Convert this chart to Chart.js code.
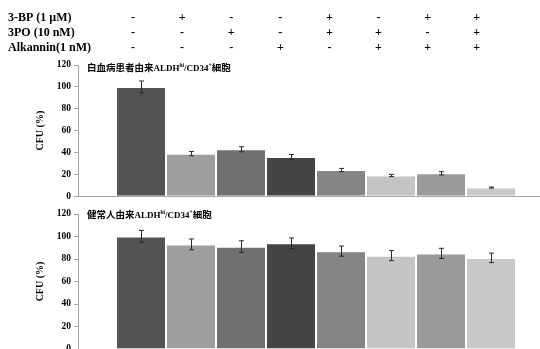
<!DOCTYPE html>
<html>
<head>
<meta charset="utf-8">
<script src="https://cdn.jsdelivr.net/npm/chart.js@4.4.1/dist/chart.umd.min.js"></script>
<style>
  html, body { margin: 0; padding: 0; background: #fff; overflow: hidden; width: 540px; height: 349px; }
  #wrap { position: relative; width: 540px; height: 349px; overflow: hidden; }
  canvas { position: absolute; left: 0; }
  #cfuLeukemia { top: 0; }
  #cfuHealthy { top: 205px; }
</style>
</head>
<body>
<div id="wrap">
  <canvas id="cfuLeukemia" width="560" height="205"></canvas>
  <canvas id="cfuHealthy" width="560" height="160"></canvas>
</div>
<script>
// Treatment groups (one bar each, drawn side by side)
const treatments = ['Control', '3-BP', '3PO', 'Alkannin', '3-BP+3PO', '3PO+Alkannin', '3-BP+Alkannin', '3-BP+3PO+Alkannin'];

// Drug combination table shown above the bars
const rowLabels = ['3-BP (1 μM)', '3PO (10 nM)', 'Alkannin(1 nM)'];
const with3BP      = ['-', '+', '-', '-', '+', '-', '+', '+'];
const with3PO      = ['-', '-', '+', '-', '+', '+', '-', '+'];
const withAlkannin = ['-', '-', '-', '+', '-', '+', '+', '+'];

// Colony forming units (% of control) with error
const leukemiaCFU = [100, 39, 43, 36, 24, 19, 21, 8];
const leukemiaErr = [5.4, 2, 2.3, 2.2, 1.5, 1, 1.5, 0.5];
const healthyCFU  = [100, 93, 91, 94, 87, 83, 85, 81];
const healthyErr  = [5.4, 4.8, 5.2, 4.7, 4.5, 4.5, 4.5, 4.2];

// Panel titles: [text, style]
const leukemiaTitle = [['白血病患者由来', 'cjk'], ['ALDH', 'lat'], ['hi', 'sup'], ['/CD34', 'lat'], ['+', 'sup'], ['細胞', 'cjk']];
const healthyTitle  = [['健常人由来', 'cjk'], ['ALDH', 'lat'], ['hi', 'sup'], ['/CD34', 'lat'], ['+', 'sup'], ['細胞', 'cjk']];

const yTicks = [0, 20, 40, 60, 80, 100, 120];
const yAxisTitle = 'CFU (%)';

const barColors = ['#535353', '#9e9e9e', '#707070', '#444444', '#858585', '#c4c4c4', '#9a9a9a', '#c8c8c8'];
const axisColor = '#a6a6a6';
const serif = '"Liberation Serif", "Times New Roman", serif';

// Error bars, panel title and (optionally) the combination table
const panelDecor = {
  id: 'panelDecor',
  afterDatasetsDraw(chart, args, opts) {
    const ctx = chart.ctx;
    const y = chart.scales.y;
    ctx.save();
    // error bars
    ctx.strokeStyle = '#2a2a2a';
    ctx.lineWidth = 1;
    chart.data.datasets.forEach((ds, i) => {
      const bar = chart.getDatasetMeta(i).data[0];
      const v = ds.data[0], e = opts.errors[i];
      const x = Math.round(bar.x) + 0.5;
      const yHi = y.getPixelForValue(v + e), yLo = y.getPixelForValue(v - e);
      ctx.beginPath();
      ctx.moveTo(x, yHi); ctx.lineTo(x, yLo);
      ctx.moveTo(x - 2.5, yHi); ctx.lineTo(x + 2.5, yHi);
      ctx.moveTo(x - 2.5, yLo); ctx.lineTo(x + 2.5, yLo);
      ctx.stroke();
    });
    // panel title
    let tx = opts.titleX;
    const ty = opts.titleY;
    ctx.fillStyle = '#000';
    ctx.textBaseline = 'alphabetic';
    ctx.textAlign = 'left';
    opts.title.forEach(([txt, kind]) => {
      let dy = 0;
      if (kind === 'cjk') ctx.font = 'bold 9.5px "Noto Sans CJK JP", sans-serif';
      else if (kind === 'lat') ctx.font = 'bold 9px ' + serif;
      else { ctx.font = 'bold 5.5px ' + serif; dy = -4; }
      ctx.fillText(txt, tx, ty + dy);
      tx += ctx.measureText(txt).width;
    });
    // combination table
    if (opts.table) {
      const rows = [with3BP, with3PO, withAlkannin];
      const rowY = [18, 33, 48];
      ctx.font = 'bold 12px ' + serif;
      ctx.textBaseline = 'middle';
      rows.forEach((row, r) => {
        ctx.textAlign = 'left';
        ctx.fillText(rowLabels[r], 8, rowY[r]);
        ctx.textAlign = 'center';
        row.forEach((sign, i) => {
          const bar = chart.getDatasetMeta(i).data[0];
          ctx.fillText(sign, bar.x - 8 - i * 0.9, rowY[r]);
        });
      });
    }
    ctx.restore();
  }
};

function makePanel(canvasId, values, errors, title, padding, titleY, table) {
  return new Chart(document.getElementById(canvasId), {
    type: 'bar',
    data: {
      labels: [''],
      datasets: treatments.map((t, i) => ({
        label: t,
        data: [values[i]],
        backgroundColor: barColors[i],
        borderColor: 'rgba(255,255,255,0.14)',
        borderWidth: 1,
        barPercentage: 1,
        categoryPercentage: 400 / 476
      }))
    },
    options: {
      responsive: false,
      animation: false,
      devicePixelRatio: 1,
      layout: { padding: padding },
      plugins: {
        legend: { display: false },
        tooltip: { enabled: false },
        panelDecor: { errors: errors, title: title, titleX: 87, titleY: titleY, table: table }
      },
      scales: {
        x: {
          afterFit: s => { s.height = 0; },
          grid: { display: false, drawTicks: false },
          border: { display: true, color: axisColor, width: 1 },
          ticks: { display: false }
        },
        y: {
          min: 0, max: 120,
          afterBuildTicks: s => { s.ticks = yTicks.map(v => ({ value: v })); },
          afterFit: s => { s.width = 78; },
          grid: { drawOnChartArea: false, drawTicks: true, tickLength: 4, color: axisColor },
          border: { display: true, color: axisColor, width: 1 },
          ticks: { padding: 3, color: '#000', font: { family: serif, weight: 'bold', size: 9.5 } },
          title: {
            display: true, text: yAxisTitle, color: '#000',
            font: { family: serif, weight: 'bold', size: 10 },
            padding: { top: 34, bottom: 0 }
          }
        }
      }
    },
    plugins: [panelDecor]
  });
}

makePanel('cfuLeukemia', leukemiaCFU, leukemiaErr, leukemiaTitle, { top: 65, right: 6, bottom: 6, left: 0 }, 71, true);
makePanel('cfuHealthy', healthyCFU, healthyErr, healthyTitle, { top: 9, right: 6, bottom: 16, left: 0 }, 13, false);
</script>
</body>
</html>
